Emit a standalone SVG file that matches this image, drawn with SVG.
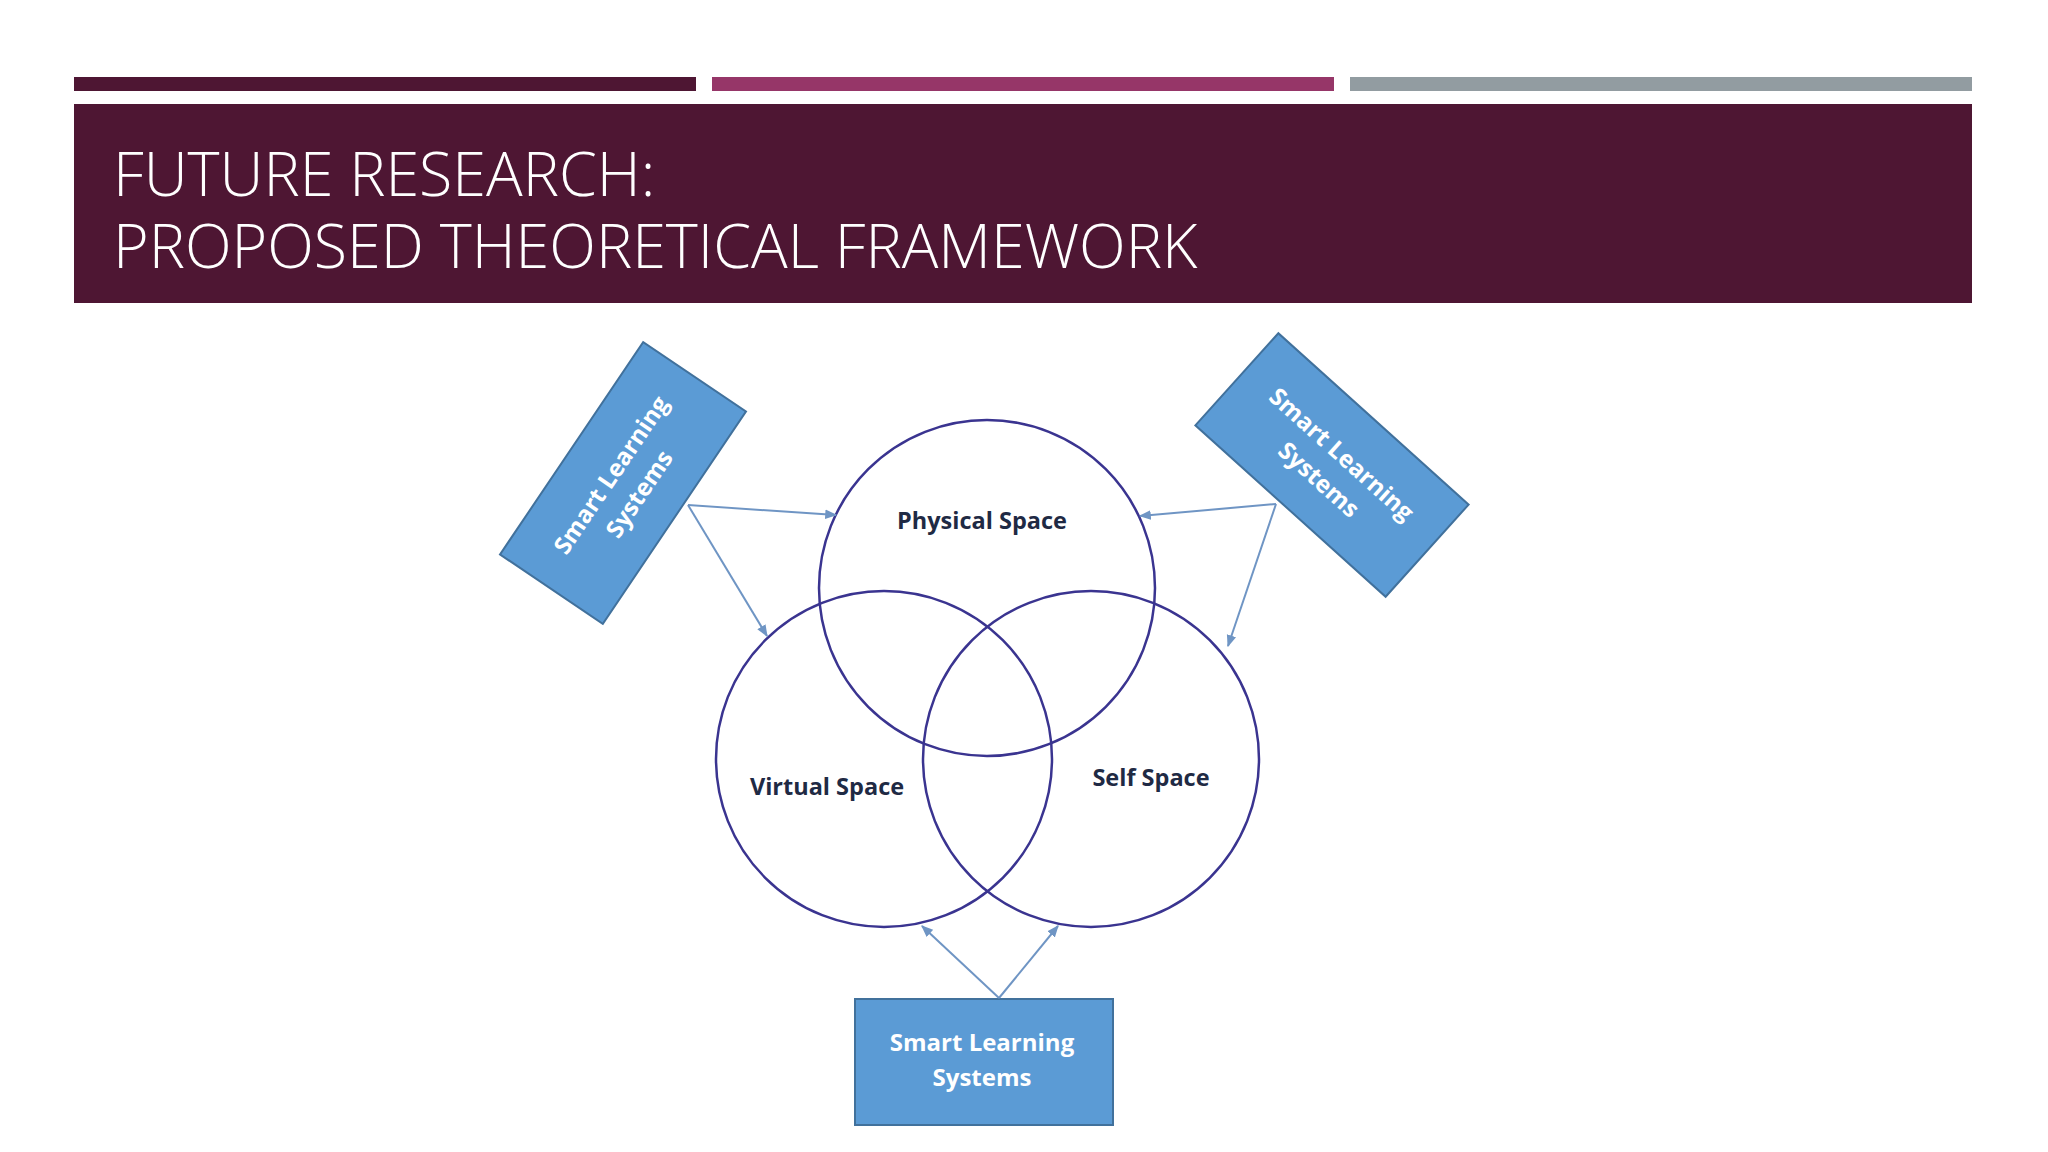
<svg xmlns="http://www.w3.org/2000/svg" width="2048" height="1152" viewBox="0 0 2048 1152">
<style>
.title{font-family:"Open Sans","Liberation Sans",sans-serif;font-weight:300;font-size:61px;fill:#fff}
.circ{fill:none;stroke:#3a3490;stroke-width:2.5}
.lbl{font-family:"Open Sans","Liberation Sans",sans-serif;font-weight:700;font-size:23.5px;fill:#1f2a44;text-anchor:middle}
.box{fill:#5b9bd5;stroke:#41719c;stroke-width:2}
.bt{font-family:"Open Sans","Liberation Sans",sans-serif;font-weight:700;font-size:24px;fill:#fff;text-anchor:middle}
.arr{stroke:#6f95c4;stroke-width:2;fill:none;marker-end:url(#ah)}
</style>
<defs>
<marker id="ah" viewBox="0 0 10 10" refX="9" refY="5" markerWidth="12" markerHeight="12" orient="auto" markerUnits="userSpaceOnUse"><path d="M0,1 L10,5 L0,9 z" fill="#6f95c4"/></marker>
</defs>
<rect width="2048" height="1152" fill="#fff"/>
<g id="header">
<rect x="74" y="77" width="622" height="14" fill="#4e1633"/>
<rect x="712" y="77" width="622" height="14" fill="#963668"/>
<rect x="1350" y="77" width="622" height="14" fill="#929ca1"/>
<rect x="74" y="104" width="1898" height="199" fill="#4e1633"/>
<text class="title" x="113" y="196">FUTURE RESEARCH:</text>
<text class="title" x="113" y="268">PROPOSED THEORETICAL FRAMEWORK</text>
</g>
<g id="physical"><circle class="circ" cx="987" cy="588" r="168"/><text class="lbl" x="982" y="529">Physical Space</text></g>
<g id="virtual"><circle class="circ" cx="884" cy="759" r="168"/><text class="lbl" x="827" y="795">Virtual Space</text></g>
<g id="self"><circle class="circ" cx="1091" cy="759" r="168"/><text class="lbl" x="1151" y="786">Self Space</text></g>
<g id="sls-left" transform="translate(623,483) rotate(-56)">
<rect class="box" x="-128" y="-62" width="256" height="124"/>
<text class="bt" x="0" y="-6">Smart Learning</text><text class="bt" x="0" y="28">Systems</text>
</g>
<g id="sls-right" transform="translate(1332,465) rotate(42)">
<rect class="box" x="-128" y="-62" width="256" height="124"/>
<text class="bt" x="0" y="-6">Smart Learning</text><text class="bt" x="0" y="28">Systems</text>
</g>
<g id="sls-bottom">
<rect class="box" x="855" y="999" width="258" height="126"/>
<text class="bt" x="982" y="1051">Smart Learning</text><text class="bt" x="982" y="1086">Systems</text>
</g>
<g id="connectors">
<line class="arr" x1="688" y1="505" x2="836" y2="515"/>
<line class="arr" x1="688" y1="505" x2="767" y2="636"/>
<line class="arr" x1="1276" y1="504" x2="1140" y2="516"/>
<line class="arr" x1="1276" y1="504" x2="1228" y2="646"/>
<line class="arr" x1="999" y1="998" x2="922" y2="926"/>
<line class="arr" x1="999" y1="998" x2="1058" y2="926"/>
</g>
</svg>
